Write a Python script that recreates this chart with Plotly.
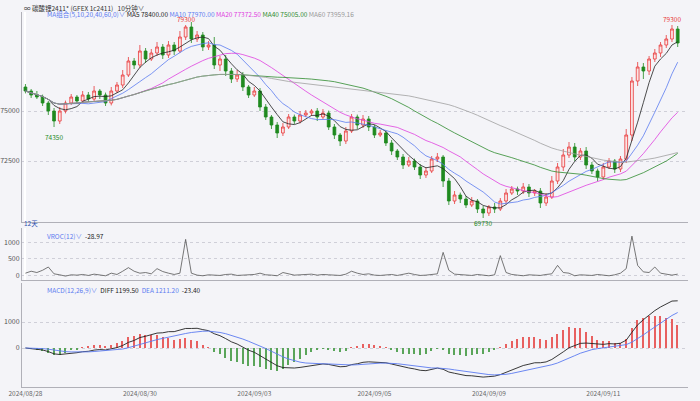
import plotly.graph_objects as go
import pandas as pd

close = [76000,75800,75700,75400,75000,74500,75000,75400,75700,75500,75800,75600,76000,75800,75400,76000,76300,76800,77500,77300,
         78000,77600,77900,78200,77800,78300,78000,78700,79200,78600,78800,78200,78300,77300,77600,77000,76600,76800,76200,75800,
         76000,75200,74700,74300,73900,74200,74700,74500,74800,74900,75000,74700,74900,74200,73800,73500,74000,74700,74300,74600,
         74200,73800,73900,73400,73000,72700,72300,72500,72200,71800,72000,72600,72700,71500,70500,70800,70600,70300,70500,70100,
         69900,70200,70100,70500,70900,71100,71000,71200,70900,71000,70400,70700,71500,72200,72800,73200,72700,73000,72300,72000,
         71700,72200,72500,72100,72600,73800,76500,77200,77000,77600,77900,78300,78600,79100,78400]
open_ = [76200] + close[:-1]
up_wick = [150,100,200,120,100,150,200,120,150,100,200,150,250,100,120,200,150,250,200,150,
           300,150,200,250,150,200,150,300,100,250,200,150,200,400,150,200,150,250,150,100,
           200,150,150,100,150,200,150,120,200,150,100,150,200,120,150,100,200,150,120,200,
           150,100,150,120,150,100,150,200,120,150,200,150,200,100,150,200,120,150,200,100,
           150,100,200,150,200,150,120,200,150,100,150,200,250,200,300,250,200,150,200,150,
           120,200,150,100,150,300,200,250,200,150,200,150,200,200,150]
lo_wick = [120,150,100,150,200,300,150,120,100,150,120,150,100,200,150,120,100,150,100,200,
           150,200,100,150,200,150,200,100,150,200,150,200,150,200,300,250,200,150,200,150,
           100,200,150,200,250,150,100,150,120,100,150,200,100,150,200,250,150,100,200,150,
           200,150,100,150,200,150,200,100,150,200,150,100,150,300,200,150,200,150,100,200,
           250,150,200,100,150,100,200,150,200,150,250,150,100,150,200,150,200,150,200,150,
           200,150,100,200,150,200,300,250,400,200,150,200,150,150,200]
vroc = [60,120,80,150,250,40,10,-30,10,0,20,-10,30,0,-20,60,20,120,230,120,
        60,80,40,200,110,60,20,60,1100,60,0,-20,10,0,-10,20,30,-10,0,10,
        20,60,10,0,-20,80,30,0,10,10,30,0,20,10,0,-10,30,120,60,20,
        40,0,-10,10,20,-10,30,60,20,-10,0,10,40,700,150,30,10,0,-10,20,
        0,-20,10,600,80,20,0,-20,10,0,-10,20,40,300,80,60,-20,10,0,-10,
        20,0,-20,10,60,200,1200,300,100,80,250,60,20,0,30]
ticks_idx = [0, 20, 40, 61, 81, 101]
ticks_txt = ["2024/08/28", "2024/08/30", "2024/09/03", "2024/09/05", "2024/09/09", "2024/09/11"]

n = len(close)
x = list(range(n))
high = [max(o, c) + w for o, c, w in zip(open_, close, up_wick)]
low = [min(o, c) - w for o, c, w in zip(open_, close, lo_wick)]
s = pd.Series(close, dtype=float)
mas = {5: "#222222", 10: "#5b7bf0", 20: "#e040e0", 40: "#2e8b2e", 60: "#a0a0a0"}
ema12 = s.ewm(span=12, adjust=False).mean()
ema26 = s.ewm(span=26, adjust=False).mean()
diff = ema12 - ema26
dea = diff.ewm(span=9, adjust=False).mean()
hist = 2 * (diff - dea)

fig = go.Figure()
fig.add_trace(go.Candlestick(x=x, open=open_, high=high, low=low, close=close,
                             increasing=dict(line=dict(color="#e8393a", width=0.8), fillcolor="#fbe3e3"),
                             decreasing=dict(line=dict(color="#1f8a1f", width=0.8), fillcolor="#1f8a1f"),
                             whiskerwidth=0, showlegend=False, xaxis="x", yaxis="y"))
for p, col in mas.items():
    fig.add_trace(go.Scatter(x=x, y=s.rolling(p, min_periods=1).mean(), mode="lines",
                             line=dict(color=col, width=0.8), showlegend=False, hoverinfo="skip", xaxis="x", yaxis="y"))
fig.add_trace(go.Scatter(x=x, y=vroc, mode="lines", line=dict(color="#555555", width=0.8), showlegend=False,
                         xaxis="x2", yaxis="y2"))
fig.add_trace(go.Bar(x=x, y=hist, width=0.25,
                     marker=dict(color=["#e86060" if h >= 0 else "#5aa55a" for h in hist], line=dict(width=0)),
                     showlegend=False, xaxis="x3", yaxis="y3"))
fig.add_trace(go.Scatter(x=x, y=diff, mode="lines", line=dict(color="#222222", width=0.9), showlegend=False,
                         xaxis="x3", yaxis="y3"))
fig.add_trace(go.Scatter(x=x, y=dea, mode="lines", line=dict(color="#5b7bf0", width=0.9), showlegend=False,
                         xaxis="x3", yaxis="y3"))

xr = [-0.6, n + 0.8]
grid = dict(showgrid=True, gridcolor="#cfcfd8", griddash="dot", gridwidth=0.5, tickfont=dict(size=7, color="#555"),
            showline=True, linecolor="#b0b0b8", zeroline=False, tickformat="d")
xcommon = dict(range=xr, showgrid=False, showline=True, linecolor="#b0b0b8", rangeslider=dict(visible=False))
B = 14
H = 401.0 - B
def dom(top, bot):
    return [max(0.0, (H - bot) / H), min(1.0, (H - top) / H)]
def py(px):
    return (H - px) / H

anns_spec = [
    (0.0, py(0.5), "<span style='color:#333'>∞ 碳酸锂2411* (GFEX 1c2411)   10分钟∨</span>"),
    (0.035, py(7.0), "<span style='color:#5b7bf0'>MA组合(5,10,20,40,60,0)∨</span> <span style='color:#222'>MA5 78400.00</span> <span style='color:#5b7bf0'>MA10 77970.00</span> <span style='color:#e040e0'>MA20 77372.50</span> <span style='color:#2e8b2e'>MA40 75005.00</span> <span style='color:#999'>MA60 73959.16</span>"),
    (0.0, py(216), "<span style='color:#3050b0'>12天</span>"),
    (0.035, py(228.5), "<span style='color:#5b7bf0'>VROC(12)∨</span>  <span style='color:#222'>-28.97</span>"),
    (0.035, py(283), "<span style='color:#5b7bf0'>MACD(12,26,9)∨</span>  <span style='color:#222'>DIFF 1199.50</span>  <span style='color:#5b7bf0'>DEA 1211.20</span>  <span style='color:#222'>-23.40</span>"),
]
anns = [dict(x=a, y=b, xref="paper", yref="paper", text=t, showarrow=False, xanchor="left", yanchor="top",
             font=dict(size=6.5, family="Noto Sans CJK SC")) for a, b, t in anns_spec]
anns += [dict(x=28, y=79300, xref="x", yref="y", text="79300", showarrow=False, yanchor="bottom", yshift=-1, font=dict(size=6.5, color="#e8393a")),
         dict(x=113, y=79300, xref="x", yref="y", text="79300", showarrow=False, yanchor="bottom", yshift=-1, font=dict(size=6.5, color="#e8393a")),
         dict(x=5, y=74350, xref="x", yref="y", text="74350", showarrow=False, yanchor="top", yshift=-6, font=dict(size=6.5, color="#1f8a1f")),
         dict(x=80, y=69730, xref="x", yref="y", text="69730", showarrow=False, yanchor="top", font=dict(size=6.5, color="#1f8a1f"))]

fig.update_layout(
    width=700, height=401, margin=dict(l=22, r=12, t=0, b=B),
    paper_bgcolor="#f4f4f8", plot_bgcolor="#f4f4f8", annotations=anns, bargap=0,
    font=dict(family="Noto Sans CJK SC"),
    xaxis=dict(**xcommon, domain=[0, 1], anchor="y", showticklabels=False),
    xaxis2=dict(**xcommon, domain=[0, 1], anchor="y2", matches="x", showticklabels=False),
    xaxis3=dict(**xcommon, domain=[0, 1], anchor="y3", matches="x", tickvals=ticks_idx, ticktext=ticks_txt,
                tickfont=dict(size=6.5, color="#666"), ticklen=0),
    yaxis=dict(**grid, domain=dom(12, 222), range=[69450, 79950], tickvals=[72500, 75000]),
    yaxis2=dict(**grid, domain=dom(228, 280), range=[-150, 1450], tickvals=[0, 500, 1000]),
    yaxis3=dict(**grid, domain=dom(283, 387), range=[-1500, 2500], tickvals=[0, 1000]),
)
fig.write_html("out.html", config={"displayModeBar": False},
               post_script="document.body.style.margin='0';document.body.style.padding='0';document.body.style.overflow='hidden';")
